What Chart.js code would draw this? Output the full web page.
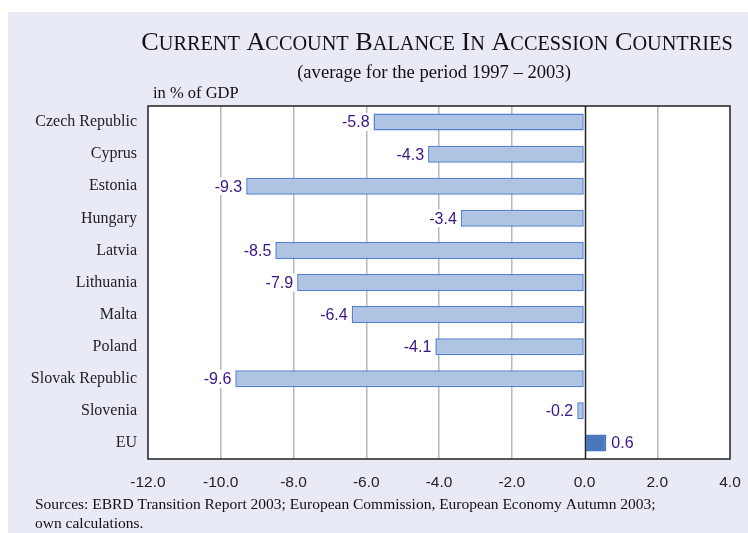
<!DOCTYPE html>
<html>
<head>
<meta charset="utf-8">
<script src="https://cdn.jsdelivr.net/npm/chart.js@4/dist/chart.umd.min.js"></script>
<style>
  html, body { margin: 0; padding: 0; background: #fff; }
  #wrap { width: 748px; height: 533px; position: relative; }
</style>
</head>
<body>
<div id="wrap"><canvas id="my-chart" width="748" height="533"></canvas></div>
<script>
const countries = ['Czech Republic', 'Cyprus', 'Estonia', 'Hungary', 'Latvia', 'Lithuania',
  'Malta', 'Poland', 'Slovak Republic', 'Slovenia', 'EU'];
const balance = [-5.8, -4.3, -9.3, -3.4, -8.5, -7.9, -6.4, -4.1, -9.6, -0.2, 0.6];
const xTicks = [-12, -10, -8, -6, -4, -2, 0, 2, 4];

const titleText = 'Current Account Balance in Accession Countries';
const subtitleText = '(average for the period 1997 \u2013 2003)';
const unitText = 'in % of GDP';
const sourceLines = ['Sources: EBRD Transition Report 2003; European Commission, European Economy Autumn 2003;',
  'own calculations.'];

const serif = "'Liberation Serif', 'Times New Roman', serif";
const sans = "'Liberation Sans', Arial, sans-serif";

// draws a string in small caps: first letter of each word big, the rest smaller capitals
function smallCaps(ctx, text, cx, y, big, small) {
  const parts = [];
  text.split(' ').forEach((w, i) => {
    if (i > 0) parts.push({ t: ' ', s: big });
    parts.push({ t: w[0].toUpperCase(), s: big });
    if (w.length > 1) parts.push({ t: w.slice(1).toUpperCase(), s: small });
  });
  let total = 0;
  parts.forEach(p => { ctx.font = p.s + 'px ' + serif; p.w = ctx.measureText(p.t).width; total += p.w; });
  let x = cx - total / 2;
  ctx.textAlign = 'left';
  ctx.textBaseline = 'alphabetic';
  parts.forEach(p => { ctx.font = p.s + 'px ' + serif; ctx.fillText(p.t, x, y); x += p.w; });
}

const decor = {
  id: 'decor',
  beforeDraw(chart) {
    const ctx = chart.ctx;
    const a = chart.chartArea;
    ctx.save();
    ctx.fillStyle = '#e8eaf6';
    ctx.fillRect(8, 12, 740, 521);
    ctx.fillStyle = '#ffffff';
    ctx.fillRect(a.left, a.top, a.right - a.left, a.bottom - a.top);
    ctx.fillStyle = '#111';
    smallCaps(ctx, titleText, 437, 50, 26.2, 20.3);
    ctx.font = '18.6px ' + serif;
    ctx.textAlign = 'center';
    ctx.fillText(subtitleText, 434, 78);
    ctx.font = '16.5px ' + serif;
    ctx.textAlign = 'left';
    ctx.fillText(unitText, 153, 98);
    ctx.font = '15.5px ' + serif;
    ctx.fillText(sourceLines[0], 35, 509);
    ctx.fillText(sourceLines[1], 35, 528);
    ctx.restore();
  },
  afterDatasetsDraw(chart) {
    const ctx = chart.ctx;
    const a = chart.chartArea;
    const xs = chart.scales.x;
    const meta = chart.getDatasetMeta(0);
    ctx.save();
    // zero line and frame
    ctx.strokeStyle = '#222';
    ctx.lineWidth = 1.5;
    const x0 = Math.round(xs.getPixelForValue(0)) + 0.5;
    ctx.beginPath();
    ctx.moveTo(x0, a.top);
    ctx.lineTo(x0, a.bottom);
    ctx.stroke();
    ctx.strokeRect(a.left, a.top, a.right - a.left, a.bottom - a.top);
    // value labels
    ctx.font = '16px ' + sans;
    ctx.textBaseline = 'middle';
    meta.data.forEach((bar, i) => {
      const v = balance[i];
      const txt = v.toFixed(1);
      const w = ctx.measureText(txt).width;
      let tx;
      if (v < 0) { tx = bar.x - 4 - w; } else { tx = bar.x + 5; }
      ctx.fillStyle = '#ffffff';
      ctx.fillRect(tx - 2, bar.y - 9, w + 4, 18);
      ctx.fillStyle = '#3b1487';
      ctx.textAlign = 'left';
      ctx.fillText(txt, tx, bar.y + 1);
    });
    ctx.restore();
  }
};

const ctx = document.getElementById('my-chart').getContext('2d');
const chart = new Chart(ctx, {
  type: 'bar',
  data: {
    labels: countries,
    datasets: [{
      data: balance,
      backgroundColor: balance.map((v, i) => i === countries.length - 1 ? '#4a78bd' : '#afc3e3'),
      borderColor: balance.map((v, i) => i === countries.length - 1 ? '#4a78bd' : '#5282cf'),
      borderWidth: 1.5,
      borderSkipped: false,
      barPercentage: 0.53,
      categoryPercentage: 1
    }]
  },
  options: {
    indexAxis: 'y',
    responsive: false,
    animation: false,
    events: [],
    layout: { padding: { left: 0, top: 106, right: 18, bottom: 0 } },
    plugins: { legend: { display: false }, tooltip: { enabled: false } },
    scales: {
      x: {
        min: -12, max: 4,
        afterFit: s => { s.height = 74; s.paddingLeft = 0; s.paddingRight = 0; },
        afterBuildTicks: s => { s.ticks = xTicks.map(v => ({ value: v })); },
        grid: {
          color: c => (c.tick && (c.tick.value === 0 || c.tick.value === -12 || c.tick.value === 4)) ? 'rgba(0,0,0,0)' : '#b8b8b8',
          lineWidth: 1.5,
          drawTicks: false
        },
        border: { display: false },
        ticks: {
          padding: 14,
          color: '#222',
          font: { family: sans, size: 15.5 },
          callback: v => Number(v).toFixed(1)
        }
      },
      y: {
        afterFit: s => { s.width = 148; },
        grid: { display: false, drawTicks: false },
        border: { display: false },
        ticks: {
          padding: 11,
          color: '#222',
          font: { family: serif, size: 16 }
        }
      }
    }
  },
  plugins: [decor]
});
</script>
</body>
</html>
